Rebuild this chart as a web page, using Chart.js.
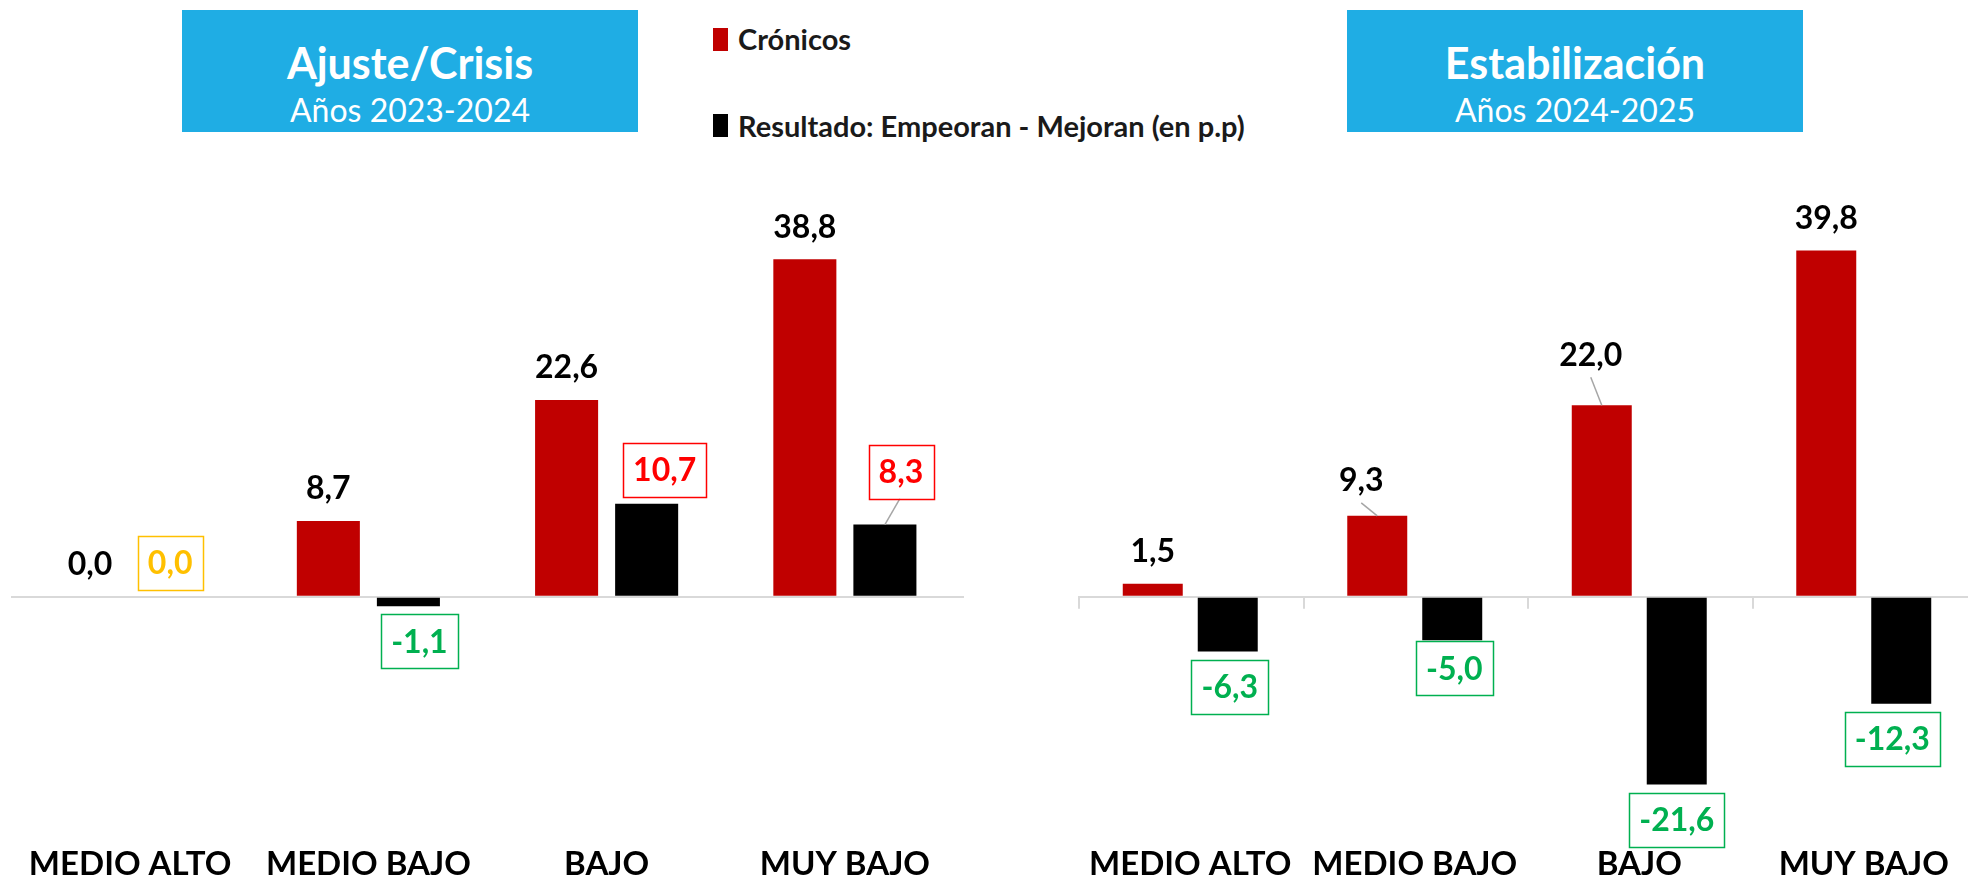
<!DOCTYPE html>
<html>
<head>
<meta charset="utf-8">
<script src="https://cdn.jsdelivr.net/npm/chart.js@4.4.1/dist/chart.umd.min.js"></script>
<style>
  html, body { margin:0; padding:0; width:1968px; height:879px; overflow:hidden; background:#fff; font-family: Lato, "Open Sans", sans-serif; }
  .tbox { position:absolute; top:10px; width:456px; height:122px; background:#1FADE4; color:#fff; }
  .tbox .t1 { position:absolute; left:0; right:0; top:52px; transform:translateY(-50%); text-align:center; font-weight:700; font-size:43px; line-height:1; }
  .tbox .t2 { position:absolute; left:0; right:0; top:100px; transform:translateY(-50%); text-align:center; font-weight:400; font-size:32px; line-height:1; }
  .leg { position:absolute; left:713px; font-size:29px; font-weight:700; color:#1a1a1a; line-height:1; }
  .leg .sw { position:absolute; left:0; width:15px; height:23px; }
  .leg .tx { position:absolute; left:25px; white-space:nowrap; transform:translateY(-50%); }
  canvas { position:absolute; top:0; }
</style>
</head>
<body>
<div class="tbox" style="left:182px"><div class="t1">Ajuste/Crisis</div><div class="t2">Años 2023-2024</div></div>
<div class="tbox" style="left:1347px"><div class="t1">Estabilización</div><div class="t2">Años 2024-2025</div></div>
<div class="leg" style="top:0"><div class="sw" style="top:28px;background:#C00000"></div><div class="tx" style="top:38px">Crónicos</div></div>
<div class="leg" style="top:0"><div class="sw" style="top:114px;background:#000"></div><div class="tx" style="top:125px">Resultado: Empeoran - Mejoran (en p.p)</div></div>
<canvas id="c1" width="953" height="879" style="left:11px;width:953px;height:879px"></canvas>
<canvas id="c2" width="898" height="879" style="left:1078px;width:898px;height:879px"></canvas>
<script>
// ---- data ----
const categories = ["MEDIO ALTO", "MEDIO BAJO", "BAJO", "MUY BAJO"];
const seriesNames = ["Crónicos", "Resultado: Empeoran - Mejoran (en p.p)"];
const cronicos2324 = [0.0, 8.7, 22.6, 38.8];
const resultado2324 = [0.0, -1.1, 10.7, 8.3];
const cronicos2425 = [1.5, 9.3, 22.0, 39.8];
const resultado2425 = [-6.3, -5.0, -21.6, -12.3];

// ---- label nudges (pixels) per chart: [dataset][index] = [dx, dy, leader] ----
const nudges2324 = [
  [[0,0,0],[0,0,0],[0,0,0],[0,0,0]],
  [[0,0,0],[11,0,0],[18,0,0],[16,-19,1]]
];
const nudges2425 = [
  [[0,0,0],[-16,-3,1],[-11,-18,1],[0,0,0]],
  [[2,0,0],[2,-7,0],[0,0,0],[-9,0,0]]
];

const fmt = v => v.toFixed(1).replace('.', ',');
const FONT = 'Lato, "Open Sans", sans-serif';

const valueLabels = {
  id: 'valueLabels',
  afterDatasetsDraw(chart, args, opts) {
    const ctx = chart.ctx;
    ctx.save();
    ctx.font = 'bold 32px ' + FONT;
    ctx.textAlign = 'center';
    ctx.textBaseline = 'middle';
    chart.data.datasets.forEach((ds, di) => {
      const meta = chart.getDatasetMeta(di);
      meta.data.forEach((bar, i) => {
        const v = ds.data[i];
        const n = (opts.nudges && opts.nudges[di] && opts.nudges[di][i]) || [0,0,0];
        const txt = fmt(v);
        if (di === 0) {
          const x = bar.x + n[0], y = bar.y - 33 + n[1];
          if (n[2]) {
            ctx.strokeStyle = '#A6A6A6'; ctx.lineWidth = 1.5;
            ctx.beginPath(); ctx.moveTo(x, y + 23); ctx.lineTo(bar.x, bar.y); ctx.stroke();
          }
          ctx.fillStyle = '#000';
          ctx.fillText(txt, x, y + 1);
        } else {
          const col = v > 0 ? '#FF0000' : (v < 0 ? '#00B050' : '#FFC000');
          const w = ctx.measureText(txt).width + 20, h = 54;
          const x = bar.x + n[0];
          const y = (v >= 0 ? bar.y - 7 - h/2 : bar.y + 8 + h/2) + n[1];
          if (n[2]) {
            ctx.strokeStyle = '#A6A6A6'; ctx.lineWidth = 1.5;
            ctx.beginPath(); ctx.moveTo(x - 1, y + h/2); ctx.lineTo(bar.x, bar.y); ctx.stroke();
          }
          ctx.fillStyle = '#fff';
          ctx.fillRect(x - w/2, y - h/2, w, h);
          ctx.strokeStyle = col; ctx.lineWidth = 1.5;
          ctx.strokeRect(Math.round(x - w/2) + 0.5, Math.round(y - h/2) + 0.5, Math.round(w), h);
          ctx.fillStyle = col;
          ctx.fillText(txt, x, y + 1);
        }
      });
    });
    ctx.restore();
  }
};

const catTicks = {
  id: 'catTicks',
  afterDraw(chart, args, opts) {
    if (!opts.show) return;
    const xs = chart.scales.x, ys = chart.scales.y;
    const y0 = ys.getPixelForValue(0);
    const half = (xs.getPixelForTick(1) - xs.getPixelForTick(0)) / 2;
    const ctx = chart.ctx;
    ctx.save();
    ctx.strokeStyle = '#D9D9D9'; ctx.lineWidth = 2;
    for (let i = 0; i <= categories.length; i++) {
      const x = Math.round(xs.getPixelForTick(0) - half + i * half * 2) + 1;
      ctx.beginPath(); ctx.moveTo(x, y0); ctx.lineTo(x, y0 + 12); ctx.stroke();
    }
    ctx.restore();
  }
};

function makeChart(id, c, r, nudges, catPct, barPct, ticks) {
  return new Chart(document.getElementById(id), {
    type: 'bar',
    data: {
      labels: categories,
      datasets: [
        { label: seriesNames[0], data: c, backgroundColor: '#C00000', categoryPercentage: catPct, barPercentage: barPct },
        { label: seriesNames[1], data: r, backgroundColor: '#000000', categoryPercentage: catPct, barPercentage: barPct }
      ]
    },
    options: {
      responsive: false,
      animation: false,
      devicePixelRatio: 1,
      layout: { padding: 0 },
      plugins: {
        legend: { display: false },
        tooltip: { enabled: false },
        valueLabels: { nudges: nudges },
        catTicks: { show: ticks }
      },
      scales: {
        x: {
          grid: { display: false, drawTicks: false },
          border: { display: false },
          ticks: { color: '#000', font: { family: FONT, size: 33, weight: 'bold' }, padding: 3, maxRotation: 0, autoSkip: false },
          afterFit: s => { s.height = 37; }
        },
        y: {
          min: -28.2, max: 68.6,
          ticks: { display: false },
          grid: { color: '#D9D9D9', lineWidth: 2, drawTicks: false },
          border: { display: false },
          afterBuildTicks: s => { s.ticks = [{ value: 0 }]; },
          afterFit: s => { s.width = 0; }
        }
      }
    },
    plugins: [valueLabels, catTicks]
  });
}

makeChart('c1', cronicos2324, resultado2324, nudges2324, 0.672, 0.7875, false);
makeChart('c2', cronicos2425, resultado2425, nudges2425, 0.668, 0.8, true);
</script>
</body>
</html>
